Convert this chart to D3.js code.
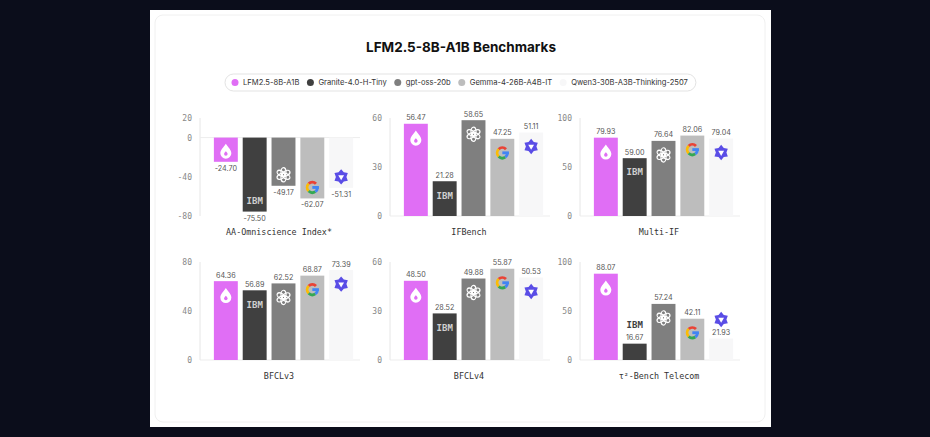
<!DOCTYPE html>
<html>
<head>
<meta charset="utf-8">
<script src="https://cdn.jsdelivr.net/npm/d3@7"></script>
<style>
  body { margin: 0; background: #0b0d1b; }
  svg { display: block; }
</style>
</head>
<body>
<div id="chart"></div>
<script>
// benchmark names and model names
let benchmarks = ["AA-Omniscience Index*", "IFBench", "Multi-IF", "BFCLv3", "BFCLv4", "τ²-Bench Telecom"];
let models = ["LFM2.5-8B-A1B", "Granite-4.0-H-Tiny", "gpt-oss-20b", "Gemma-4-26B-A4B-IT", "Qwen3-30B-A3B-Thinking-2507"];

// scores, one array per model (same order as benchmarks)
let lfmScores = [-24.70, 56.47, 79.93, 64.36, 48.50, 88.07];
let graniteScores = [-75.50, 21.28, 59.00, 56.89, 28.52, 16.67];
let gptScores = [-49.17, 58.65, 76.64, 62.52, 49.88, 57.24];
let gemmaScores = [-62.07, 47.25, 82.06, 68.87, 55.87, 42.11];
let qwenScores = [-51.31, 51.11, 79.04, 73.39, 50.53, 21.93];

// y tick labels per panel
let yTicks = [[20, 0, -40, -80], [0, 30, 60], [0, 50, 100], [0, 40, 80], [0, 30, 60], [0, 50, 100]];

let colors = ["#e06ef5", "#404040", "#7f7f7f", "#bdbdbd", "#f7f7f8"];

let width = 930;
let height = 437;
let monoFont = "'DejaVu Sans Mono', monospace";
let sansFont = "Inter, 'Noto Sans', sans-serif";

let allScores = [lfmScores, graniteScores, gptScores, gemmaScores, qwenScores];

let svg = d3.select("#chart")
    .append("svg")
    .attr("width", width)
    .attr("height", height);

// white card
svg.append("rect")
    .attr("x", 150).attr("y", 10)
    .attr("width", 621).attr("height", 417)
    .attr("fill", "#ffffff");
svg.append("rect")
    .attr("x", 155).attr("y", 15)
    .attr("width", 610).attr("height", 407)
    .attr("rx", 8)
    .attr("fill", "none")
    .attr("stroke", "#f0f0f0");

svg.append("text")
    .attr("x", 461).attr("y", 52)
    .attr("text-anchor", "middle")
    .style("font-family", sansFont)
    .style("font-weight", 700)
    .style("font-size", "13.5px")
    .style("fill", "#111")
    .text("LFM2.5-8B-A1B Benchmarks");

// legend pill
let legend = svg.append("g");
let pill = legend.append("rect")
    .attr("y", 74).attr("height", 17).attr("rx", 8.5)
    .attr("fill", "#fff")
    .attr("stroke", "#e3e3e3");

let lx = 235;
models.forEach(function (m, i) {
    legend.append("circle")
        .attr("cx", lx).attr("cy", 82.5).attr("r", 3.5)
        .attr("fill", colors[i]);
    let t = legend.append("text")
        .attr("x", lx + 8).attr("y", 85.3)
        .style("font-family", sansFont)
        .style("font-size", "7.6px")
        .style("fill", "#333")
        .text(m);
    lx = lx + 8 + t.node().getComputedTextLength() + 11;
});
pill.attr("x", 225).attr("width", lx - 11 + 8 - 225);

// icons drawn inside / above the bars
function drawIcon(g, model, cx, cy, outside) {
    let ic = g.append("g").attr("transform", "translate(" + cx + "," + cy + ") scale(1.1)");
    let ink = outside ? colors[model] : "#fff";
    if (model == 0) {
        ic.append("path")
            .attr("d", "M0,-6.5 C2.5,-3 5,-0.5 5,2.2 A5,5 0 0 1 -5,2.2 C-5,-0.5 -2.5,-3 0,-6.5Z")
            .attr("fill", "#fff");
        ic.append("path")
            .attr("d", "M0,0.5 C1,1.5 1.6,2.3 1.6,3 A1.6,1.6 0 0 1 -1.6,3 C-1.6,2.3 -1,1.5 0,0.5Z")
            .attr("fill", colors[0]);
    } else if (model == 1) {
        ic.append("text")
            .attr("y", 3)
            .attr("text-anchor", "middle")
            .style("font-family", "'DejaVu Sans Mono', monospace")
            .style("font-weight", 700)
            .style("font-size", "8.2px")
            .style("fill", outside ? "#404040" : "#cfcfcf")
            .text("IBM");
    } else if (model == 2) {
        for (let k = 0; k < 6; k++) {
            ic.append("ellipse")
                .attr("cx", 0).attr("cy", -2.6)
                .attr("rx", 2.3).attr("ry", 3.9)
                .attr("transform", "rotate(" + (k * 60) + ")")
                .attr("fill", "none")
                .attr("stroke", ink)
                .attr("stroke-width", 1.1);
        }
    } else if (model == 3) {
        let arc = d3.arc().innerRadius(3.4).outerRadius(6);
        let segs = [[-45, 45, "#ea4335"], [225, 315, "#fbbc05"], [145, 225, "#34a853"], [90, 145, "#4285f4"]];
        segs.forEach(function (s) {
            ic.append("path")
                .attr("d", arc({ startAngle: s[0] * Math.PI / 180, endAngle: s[1] * Math.PI / 180 }))
                .attr("fill", s[2]);
        });
        ic.append("rect").attr("x", 0).attr("y", -1.3).attr("width", 6).attr("height", 2.6).attr("fill", "#4285f4");
    } else {
        let pts = [];
        for (let k = 0; k < 12; k++) {
            let r = k % 2 == 0 ? 7 : 4.8;
            let a = (k * 30 - 90) * Math.PI / 180;
            pts.push([r * Math.cos(a), r * Math.sin(a)]);
        }
        ic.append("path")
            .attr("d", "M" + pts.join("L") + "Z")
            .attr("fill", "#5a4de6");
        ic.append("path")
            .attr("d", d3.symbol(d3.symbolTriangle, 12)())
            .attr("transform", "rotate(180)")
            .attr("fill", "#fff");
    }
}

let axisXs = [200, 390, 580];
let rowTops = [118, 262];
let plotH = 98;

benchmarks.forEach(function (bench, p) {
    let ax = axisXs[p % 3];
    let top = rowTops[Math.floor(p / 3)];
    let ticks = yTicks[p];
    let g = svg.append("g");

    let y = d3.scaleLinear()
        .domain([d3.min(ticks), d3.max(ticks)])
        .range([top + plotH, top]);
    let x = d3.scaleBand()
        .domain(models)
        .range([ax + 11, ax + 156])
        .paddingInner(0.17)
        .paddingOuter(0.1);

    // vertical axis line
    g.append("line")
        .attr("x1", ax).attr("x2", ax)
        .attr("y1", y(d3.max(ticks))).attr("y2", y(d3.min(ticks)))
        .attr("stroke", "#e6e6e6");
    // zero line
    g.append("line")
        .attr("x1", ax).attr("x2", ax + 160)
        .attr("y1", y(0)).attr("y2", y(0))
        .attr("stroke", "#ededed");

    g.selectAll(".tick")
        .data(ticks)
        .enter().append("text")
        .attr("x", ax - 8)
        .attr("y", (d) => y(d) + 3)
        .attr("text-anchor", "end")
        .style("font-family", monoFont)
        .style("font-size", "8px")
        .style("fill", "#888")
        .text((d) => d);

    let rows = models.map(function (m, i) {
        return { model: m, idx: i, value: allScores[i][p] };
    });

    g.selectAll("rect.bar")
        .data(rows)
        .enter().append("rect")
        .attr("class", "bar")
        .attr("x", (d) => x(d.model))
        .attr("width", x.bandwidth())
        .attr("y", (d) => Math.min(y(d.value), y(0)))
        .attr("height", (d) => Math.abs(y(d.value) - y(0)))
        .attr("fill", (d) => colors[d.idx]);

    rows.forEach(function (d) {
        let cx = x(d.model) + x.bandwidth() / 2;
        let end = y(d.value);
        let h = Math.abs(end - y(0));
        let labelY, iconY, outside = false;
        if (d.value < 0) {
            labelY = end + 9;
            iconY = end - 11;
        } else {
            labelY = end - 3.5;
            if (h >= 28) {
                iconY = end + 14;
            } else {
                // short bar: logo goes above the value label
                iconY = end - 19;
                outside = true;
            }
        }
        g.append("text")
            .attr("x", cx).attr("y", labelY)
            .attr("text-anchor", "middle")
            .style("font-family", sansFont)
            .style("font-size", "7.2px")
            .style("fill", "#555")
            .text(d.value.toFixed(2));
        drawIcon(g, d.idx, cx, iconY, outside);
    });

    g.append("text")
        .attr("x", ax + 79)
        .attr("y", top + plotH + 19)
        .attr("text-anchor", "middle")
        .style("font-family", monoFont)
        .style("font-size", "8.4px")
        .style("fill", "#333")
        .text(bench);
});
</script>
</body>
</html>
